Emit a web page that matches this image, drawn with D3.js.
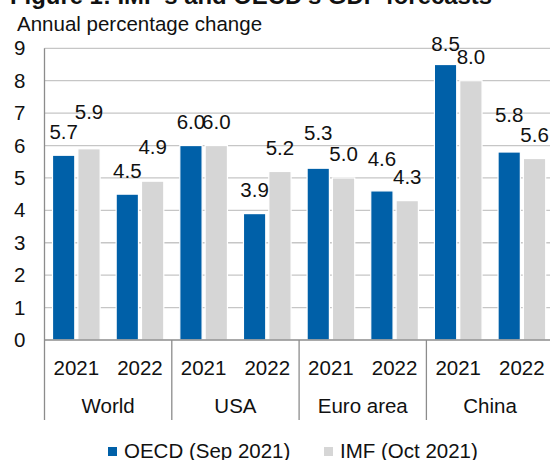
<!DOCTYPE html>
<html>
<head>
<meta charset="utf-8">
<script src="https://cdn.jsdelivr.net/npm/d3@7"></script>
<style>
    body { margin: 0; background: #fff; }
    svg text { font-family: "Liberation Sans", Arial, sans-serif; fill: #111; }
</style>
</head>
<body>
<div id="chart"></div>
<script>
const regions = ["World", "USA", "Euro area", "China"];
const years = ["2021", "2022"];
const seriesNames = ["OECD (Sep 2021)", "IMF (Oct 2021)"];
const oecdValues = [5.7, 4.5, 6.0, 3.9, 5.3, 4.6, 8.5, 5.8];
const imfValues = [5.9, 4.9, 6.0, 5.2, 5.0, 4.3, 8.0, 5.6];
const yTicks = [0, 1, 2, 3, 4, 5, 6, 7, 8, 9];

const width = 550;
const height = 460;
const colors = ["#0060a8", "#d6d6d6"];

// extra lift (px) for labels that were nudged up in the original to avoid overlaps
const labelLift = { "World-2021-1": 13, "World-2022-1": 11, "Euro area-2021-0": 12, "Euro area-2022-0": 8, "China-2022-0": 14, "China-2021-0": -3 };

// one row per bar
let slots = [];
regions.forEach((r, i) => years.forEach((y, j) => slots.push({ region: r, year: y, idx: i * years.length + j })));
let bars = [];
slots.forEach(s => {
    bars.push({ key: s.region + "-" + s.year, region: s.region, year: s.year, series: 0, value: oecdValues[s.idx] });
    bars.push({ key: s.region + "-" + s.year, region: s.region, year: s.year, series: 1, value: imfValues[s.idx] });
});

const svg = d3.select("#chart").append("svg")
    .attr("width", width)
    .attr("height", height);

const left = 44.5;
const right = 553.7;

let xSlot = d3.scaleBand()
    .domain(slots.map(s => s.region + "-" + s.year))
    .range([left, right]);

let xGroup = d3.scaleBand()
    .domain(regions)
    .range([left, right]);

let xSeries = d3.scaleBand()
    .domain([0, 1])
    .range([8, xSlot.bandwidth() - 8])
    .paddingInner(0.12);

let yScale = d3.scaleLinear()
    .domain([0, 9])
    .range([340, 48.3]);

// title (cut off at the top in the source)
svg.append("text")
    .attr("x", 10)
    .attr("y", 4)
    .attr("font-size", 24)
    .attr("font-weight", "bold")
    .attr("textLength", 482)
    .attr("lengthAdjust", "spacingAndGlyphs")
    .text("Figure 1: IMF's and OECD's GDP forecasts");

svg.append("text")
    .attr("x", 17)
    .attr("y", 31)
    .attr("font-size", 20.5)
    .text("Annual percentage change");

// gridlines
svg.append("g")
    .selectAll("line")
    .data(yTicks.filter(d => d > 0))
    .join("line")
    .attr("x1", left)
    .attr("x2", right)
    .attr("y1", d => yScale(d))
    .attr("y2", d => yScale(d))
    .attr("stroke", "#c6c6c6")
    .attr("stroke-width", 1.3);

// y axis labels
let yAxis = svg.append("g")
    .attr("transform", `translate(${left}, 0)`)
    .call(d3.axisLeft(yScale).tickValues(yTicks).tickSize(0).tickPadding(19));
yAxis.select(".domain").remove();
yAxis.selectAll("text")
    .attr("font-size", 20.5)
    .attr("font-family", "Liberation Sans, Arial, sans-serif")
    .attr("fill", "#111");

// bars
svg.append("g")
    .selectAll("rect")
    .data(bars)
    .join("rect")
    .attr("x", d => xSlot(d.key) + xSeries(d.series))
    .attr("y", d => yScale(d.value))
    .attr("width", xSeries.bandwidth())
    .attr("height", d => yScale(0) - yScale(d.value))
    .attr("fill", d => colors[d.series])
    .attr("stroke", "#fff")
    .attr("stroke-width", 1.2);

// value labels
svg.append("g")
    .selectAll("text")
    .data(bars)
    .join("text")
    .attr("x", d => xSlot(d.key) + xSeries(d.series) + xSeries.bandwidth() / 2)
    .attr("y", d => yScale(d.value) - 16.5 - (labelLift[d.key + "-" + d.series] || 0))
    .attr("text-anchor", "middle")
    .attr("font-size", 20.5)
    .text(d => d3.format(".1f")(d.value));

// axes lines
svg.append("line")
    .attr("x1", left).attr("x2", right)
    .attr("y1", yScale(0)).attr("y2", yScale(0))
    .attr("stroke", "#8c8c8c")
    .attr("stroke-width", 1.3);

svg.append("g")
    .selectAll("line")
    .data(regions)
    .join("line")
    .attr("x1", d => xGroup(d))
    .attr("x2", d => xGroup(d))
    .attr("y1", d => d === regions[0] ? yScale(9) : yScale(0))
    .attr("y2", 420)
    .attr("stroke", "#8c8c8c")
    .attr("stroke-width", 1.3);

// year labels
svg.append("g")
    .selectAll("text")
    .data(slots)
    .join("text")
    .attr("x", d => xSlot(d.region + "-" + d.year) + xSlot.bandwidth() / 2)
    .attr("y", 375)
    .attr("text-anchor", "middle")
    .attr("font-size", 20.5)
    .text(d => d.year);

// region labels
svg.append("g")
    .selectAll("text")
    .data(regions)
    .join("text")
    .attr("x", d => xGroup(d) + xGroup.bandwidth() / 2)
    .attr("y", 413)
    .attr("text-anchor", "middle")
    .attr("font-size", 20.5)
    .text(d => d);

// legend
const legendX = [108, 324];
let legend = svg.append("g")
    .selectAll("g")
    .data(seriesNames)
    .join("g")
    .attr("transform", (d, i) => `translate(${legendX[i]}, 447)`);

legend.append("rect")
    .attr("width", 9)
    .attr("height", 9)
    .attr("fill", (d, i) => colors[i]);

legend.append("text")
    .attr("x", 16)
    .attr("y", 11)
    .attr("font-size", 20.5)
    .text(d => d);
</script>
</body>
</html>
